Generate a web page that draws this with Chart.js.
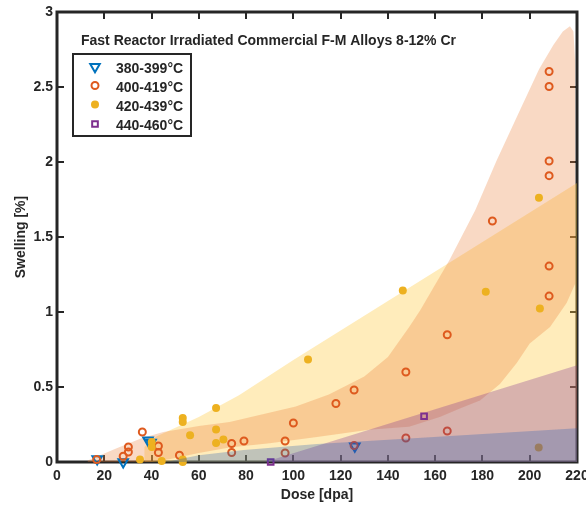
<!DOCTYPE html>
<html>
<head>
<meta charset="utf-8">
<script src="https://cdn.jsdelivr.net/npm/chart.js@4.4.0/dist/chart.umd.min.js"></script>
<style>
  html, body { margin: 0; padding: 0; background: #fff; }
  #wrap { width: 586px; height: 506px; }
</style>
</head>
<body>
<div id="wrap"><canvas id="swelling-graph" width="586" height="506"></canvas></div>
<script>
const chartTitle = 'Fast Reactor Irradiated Commercial F-M Alloys 8-12% Cr';
const xTitle = 'Dose [dpa]';
const yTitle = 'Swelling [%]';

const seriesLabels = ['380-399°C', '400-419°C', '420-439°C', '440-460°C'];
const seriesColors = ['#0072BD', '#DE5A1E', '#EDB120', '#7E2F8E'];

// measured points: dose [dpa] / swelling [%]
const dose380 = [17, 28, 38.5, 39.8, 126];
const swell380 = [0.02, 0.0, 0.145, 0.13, 0.105];

const dose400 = [16.8, 28, 30.2, 30.2, 36.1, 42.9, 42.9, 51.8, 73.9, 73.9, 79.1, 96.5, 96.5, 100,
                 118, 125.7, 125.7, 147.6, 147.6, 165.1, 165.1, 184.2, 208.2, 208.2, 208.2, 208.2, 208.2, 208.2];
const swell400 = [0.016, 0.038, 0.1, 0.067, 0.2, 0.107, 0.063, 0.045, 0.123, 0.063, 0.14, 0.14, 0.06, 0.26,
                  0.39, 0.48, 0.11, 0.6, 0.16, 0.848, 0.207, 1.607, 2.603, 2.503, 2.007, 1.909, 1.306, 1.106];

const dose420 = [35.1, 40.1, 40.1, 44.3, 53.2, 53.2, 53.2, 53.2, 56.3, 67.3, 67.3, 67.3, 70.4,
                 106.2, 146.3, 181.4, 203.9, 204.3, 203.8];
const swell420 = [0.016, 0.134, 0.1, 0.007, 0.294, 0.267, 0.016, 0.0, 0.178, 0.36, 0.216, 0.127, 0.15,
                  0.683, 1.144, 1.135, 1.762, 1.024, 0.096];

const dose440 = [90.4, 155.3];
const swell440 = [0.0, 0.305];

// shaded envelopes, outlines as [dose, swelling]
const band400Upper = [[13, 0], [13, 0.01], [25, 0.09], [36, 0.16], [45, 0.2], [60, 0.24], [73, 0.267],
  [101, 0.37], [115, 0.45], [130, 0.57], [140, 0.7], [149, 0.9], [153.6, 1.01], [166, 1.345],
  [177, 1.68], [186, 2.01], [196, 2.35], [204, 2.62], [210, 2.78], [214, 2.87], [217, 2.905],
  [218.5, 2.87], [219.2, 2.67], [219.4, 2.2], [219.3, 1.5], [219.2, 1.19]];
const band400Lower = [[13, 0], [40, 0], [48, 0.02], [60, 0.06], [73, 0.096], [90, 0.125], [110, 0.167],
  [132, 0.215], [149, 0.235], [162, 0.3], [170.5, 0.356], [179, 0.41], [187.4, 0.52], [194.5, 0.66],
  [200, 0.79], [208.6, 0.9], [215.6, 1.06], [219.2, 1.19]];
const band420Upper = [[37, 0], [37, 0.1], [42, 0.17], [60, 0.3], [77, 0.445], [100, 0.68], [220, 1.86], [220, 0]];
const band440Upper = [[88, 0], [220, 0.645], [220, 0]];
const band380Upper = [[46, 0], [60, 0.045], [79, 0.08], [110, 0.12], [149, 0.156], [220, 0.225], [220, 0]];

const xTicks = { min: 0, max: 220, step: 20 };
const yTicks = { min: 0, max: 3, step: 0.5 };

const textColor = '#262626';
const font14 = { family: 'Liberation Sans, Arial, sans-serif', size: 14, weight: 'bold' };

function toPoints(xs, ys) {
    return xs.map((x, i) => ({ x: x, y: ys[i] }));
}

function outline(pairs) {
    return pairs.map(([x, y]) => ({ x: x, y: y }));
}

function bandDataset(label, pairs, color, order) {
    return {
        type: 'line',
        label: label,
        data: outline(pairs),
        fill: 'shape',
        backgroundColor: color,
        borderColor: 'rgba(0,0,0,0)',
        borderWidth: 0,
        pointRadius: 0,
        tension: 0,
        order: order
    };
}

function pointDataset(i, xs, ys, style, order) {
    return Object.assign({
        type: 'scatter',
        label: seriesLabels[i],
        data: toPoints(xs, ys),
        clip: false,
        order: order
    }, style);
}

const pointStyles = [
    { pointStyle: 'triangle', pointRotation: 180, pointRadius: 5.5, pointBorderWidth: 2,
      pointBorderColor: seriesColors[0], pointBackgroundColor: 'rgba(0,0,0,0)' },
    { pointStyle: 'circle', pointRadius: 3.5, pointBorderWidth: 2,
      pointBorderColor: seriesColors[1], pointBackgroundColor: 'rgba(0,0,0,0)' },
    { pointStyle: 'circle', pointRadius: 4, pointBorderWidth: 0,
      pointBorderColor: seriesColors[2], pointBackgroundColor: seriesColors[2] },
    { pointStyle: 'rect', pointRadius: 4, pointBorderWidth: 2,
      pointBorderColor: seriesColors[3], pointBackgroundColor: 'rgba(0,0,0,0)' }
];

// axis frame with inward tick marks
const framePlugin = {
    id: 'frame',
    beforeDatasetsDraw(chart) {
        const { ctx, chartArea: a, scales: { x, y } } = chart;
        ctx.save();
        ctx.strokeStyle = textColor;
        ctx.lineWidth = 2;
        ctx.beginPath();
        x.ticks.forEach(t => {
            if (t.value <= xTicks.min || t.value >= xTicks.max) return;
            const px = Math.round(x.getPixelForValue(t.value));
            ctx.moveTo(px, a.bottom); ctx.lineTo(px, a.bottom - 7);
            ctx.moveTo(px, a.top); ctx.lineTo(px, a.top + 7);
        });
        y.ticks.forEach(t => {
            if (t.value <= yTicks.min || t.value >= yTicks.max) return;
            const py = Math.round(y.getPixelForValue(t.value));
            ctx.moveTo(a.left, py); ctx.lineTo(a.left + 7, py);
            ctx.moveTo(a.right, py); ctx.lineTo(a.right - 7, py);
        });
        ctx.stroke();
        ctx.lineWidth = 3;
        ctx.strokeRect(a.left, a.top, a.right - a.left, a.bottom - a.top);
        ctx.restore();
    }
};

// title and legend box inside the plot
const legendPlugin = {
    id: 'insideLegend',
    afterDraw(chart) {
        const ctx = chart.ctx;
        ctx.save();
        ctx.font = 'bold 14px Liberation Sans, Arial, sans-serif';
        ctx.fillStyle = textColor;
        ctx.textBaseline = 'alphabetic';
        ctx.textAlign = 'left';
        ctx.fillText(chartTitle, 81, 45);

        ctx.fillStyle = '#fff';
        ctx.fillRect(73, 54, 118, 82);
        ctx.lineWidth = 2;
        ctx.strokeStyle = textColor;
        ctx.strokeRect(73, 54, 118, 82);

        seriesLabels.forEach((label, i) => {
            const st = pointStyles[i];
            const base = 72.7 + i * 19;
            const my = [66.7, 85.5, 104.5, 124][i];
            ctx.fillStyle = st.pointBackgroundColor;
            ctx.strokeStyle = st.pointBorderColor;
            ctx.lineWidth = st.pointBorderWidth;
            Chart.helpers.drawPoint(ctx, {
                pointStyle: st.pointStyle,
                rotation: st.pointRotation || 0,
                radius: st.pointRadius,
                borderWidth: st.pointBorderWidth
            }, 95, my);
            ctx.fillStyle = textColor;
            ctx.fillText(label, 116, base);
        });
        ctx.restore();
    }
};

function createSwellingChart() {
    const ctx = document.getElementById('swelling-graph').getContext('2d');

    new Chart(ctx, {
        type: 'scatter',
        data: {
            datasets: [
                bandDataset('band 380', band380Upper, 'rgba(30, 90, 180, 0.28)', 0),
                bandDataset('band 440', band440Upper, 'rgba(126, 47, 142, 0.3)', 1),
                pointDataset(3, dose440, swell440, pointStyles[3], 2),
                pointDataset(2, dose420, swell420, pointStyles[2], 3),
                pointDataset(1, dose400, swell400, pointStyles[1], 4),
                pointDataset(0, dose380, swell380, pointStyles[0], 5),
                bandDataset('band 400', band400Upper.concat(band400Lower.slice().reverse()),
                    'rgba(235, 130, 60, 0.3)', 6),
                bandDataset('band 420', band420Upper, 'rgba(255, 200, 60, 0.35)', 7)
            ]
        },
        options: {
            responsive: false,
            animation: false,
            events: [],
            layout: { padding: { top: 12, right: 9, left: 0, bottom: 0 } },
            plugins: {
                legend: { display: false },
                tooltip: { enabled: false }
            },
            scales: {
                x: {
                    type: 'linear',
                    min: xTicks.min,
                    max: xTicks.max,
                    grid: { display: false, drawTicks: false },
                    border: { display: false },
                    ticks: { stepSize: xTicks.step, autoSkip: false, maxRotation: 0,
                             padding: 6, color: textColor, font: font14,
                             callback: v => String(v) },
                    title: { display: true, text: xTitle, color: textColor, font: font14,
                             padding: { top: 0, bottom: 2 } },
                    afterFit(s) { s.height = 44; s.paddingLeft = 0; s.paddingRight = 0; }
                },
                y: {
                    type: 'linear',
                    min: yTicks.min,
                    max: yTicks.max,
                    grid: { display: false, drawTicks: false },
                    border: { display: false },
                    ticks: { stepSize: yTicks.step, autoSkip: false,
                             padding: 4, color: textColor, font: font14,
                             callback: v => String(v) },
                    title: { display: true, text: yTitle, color: textColor, font: font14,
                             padding: { top: 13, bottom: 0 } },
                    afterFit(s) { s.width = 57; s.paddingTop = 0; s.paddingBottom = 0; }
                }
            }
        },
        plugins: [framePlugin, legendPlugin]
    });
}

document.addEventListener('DOMContentLoaded', createSwellingChart);
</script>
</body>
</html>
